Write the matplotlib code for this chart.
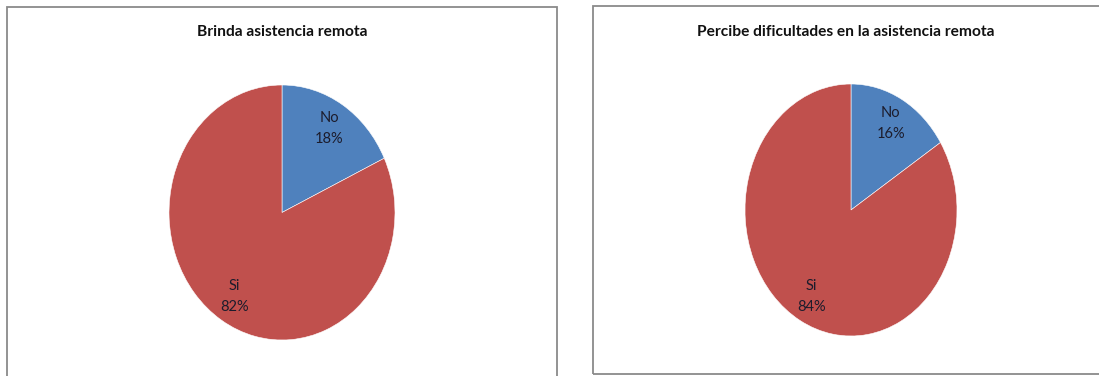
import matplotlib.pyplot as plt
from matplotlib.patches import Rectangle

# Data
categories = ['No', 'Si']
brinda_values = [18, 82]
percibe_values = [16, 84]
titles = ['Brinda asistencia remota', 'Percibe dificultades en la asistencia remota']

colors = ['#4F81BD', '#C0504D']
W, H = 1099, 376

fig = plt.figure(figsize=(W / 100, H / 100), dpi=100)
fig.patch.set_facecolor('white')

def px(x0, y0, x1, y1):
    # pixel box (top-left origin) -> figure fraction rect
    return [x0 / W, 1 - y1 / H, (x1 - x0) / W, (y1 - y0) / H]

# Chart frames (gray borders like the Excel chart areas)
for (x0, y0, x1, y1) in [(7, 7, 557, 380), (593, 6, 1105, 374)]:
    r = Rectangle((x0 / W, 1 - y1 / H), (x1 - x0) / W, (y1 - y0) / H,
                  transform=fig.transFigure, fill=False, edgecolor='#8a8a8a', linewidth=1.3)
    fig.patches.append(r)

panels = [
    (brinda_values, titles[0], (169, 85, 395, 340), 282),
    (percibe_values, titles[1], (745, 84, 957, 336), 846),
]

for values, title, box, tx in panels:
    ax = fig.add_axes(px(*box))
    labels = [f'{c}\n{v}%' for c, v in zip(categories, values)]
    wedges, texts = ax.pie(values, labels=labels, colors=colors, startangle=90,
                           counterclock=False, labeldistance=0.78,
                           wedgeprops=dict(edgecolor='white', linewidth=0.4),
                           textprops=dict(fontsize=10.5, color='#1c1c2c', family='Lato',
                                          linespacing=1.65))
    for t in texts:
        t.set_horizontalalignment('center')
        t.set_verticalalignment('center')
    ax.set_aspect('auto')
    ax.set_xlim(-1, 1)
    ax.set_ylim(-1, 1)
    ax.axis('off')
    fig.text(tx / W, 1 - 32 / H, title, ha='center', va='center', fontsize=11.2,
             fontweight='bold', family='Lato', color='#111111')

fig.savefig('out.png', dpi=100, facecolor='white')
